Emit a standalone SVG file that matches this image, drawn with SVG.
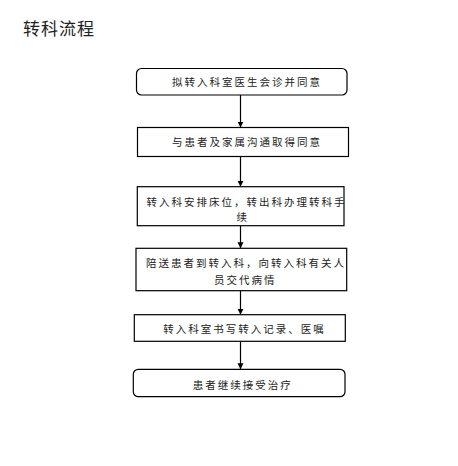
<svg xmlns="http://www.w3.org/2000/svg" width="458" height="466" viewBox="0 0 458 466">
<style>
.box{fill:#fff;stroke:#000;stroke-width:1.2}
.t{font-family:"Noto Sans CJK SC","Noto Sans",sans-serif;font-size:10.5px;letter-spacing:2px;fill:#222}
.title{font-family:"Noto Sans CJK SC","Noto Sans",sans-serif;font-size:17px;letter-spacing:1px;fill:#222}
.c{stroke:#000;stroke-width:1.2;fill:none;marker-end:url(#ah)}
</style>
<defs>
<marker id="ah" viewBox="0 0 8 8" refX="8" refY="4" markerWidth="6" markerHeight="7" markerUnits="userSpaceOnUse" orient="auto">
<path d="M0,0 L8,4 L0,8 Z" fill="#000"/>
</marker>
</defs>
<rect width="458" height="466" fill="#fff"/>
<text class="title" x="23" y="35">转科流程</text>
<g id="connectors">
<line class="c" x1="240.5" y1="95" x2="240.5" y2="127.5"/>
<line class="c" x1="240.5" y1="156.5" x2="240.5" y2="186.7"/>
<line class="c" x1="240.5" y1="225.7" x2="240.5" y2="248.3"/>
<line class="c" x1="240.5" y1="290.7" x2="240.5" y2="314.7"/>
<line class="c" x1="240.5" y1="341.3" x2="240.5" y2="369.3"/>
</g>
<g id="n1">
<rect class="box" x="136.5" y="68.5" width="210.5" height="26.5" rx="5"/>
<text class="t" x="172" y="86">拟转入科室医生会诊并同意</text>
</g>
<g id="n2">
<rect class="box" x="137.5" y="127.5" width="211" height="29"/>
<text class="t" x="172" y="146">与患者及家属沟通取得同意</text>
</g>
<g id="n3">
<rect class="box" x="137.3" y="186.7" width="206.7" height="39"/>
<text class="t" x="146.5" y="205.5">转入科安排床位，转出科办理转科手</text>
<text class="t" x="236.5" y="221">续</text>
</g>
<g id="n4">
<rect class="box" x="136" y="248.3" width="210.7" height="42.4"/>
<text class="t" x="146" y="266.5">陪送患者到转入科，向转入科有关人</text>
<text class="t" x="214" y="284">员交代病情</text>
</g>
<g id="n5">
<rect class="box" x="134.3" y="314.7" width="211" height="26.6"/>
<text class="t" x="163.3" y="333">转入科室书写转入记录、医嘱</text>
</g>
<g id="n6">
<rect class="box" x="133.3" y="369.3" width="211.7" height="27.4" rx="5"/>
<text class="t" x="192.7" y="389">患者继续接受治疗</text>
</g>
</svg>
